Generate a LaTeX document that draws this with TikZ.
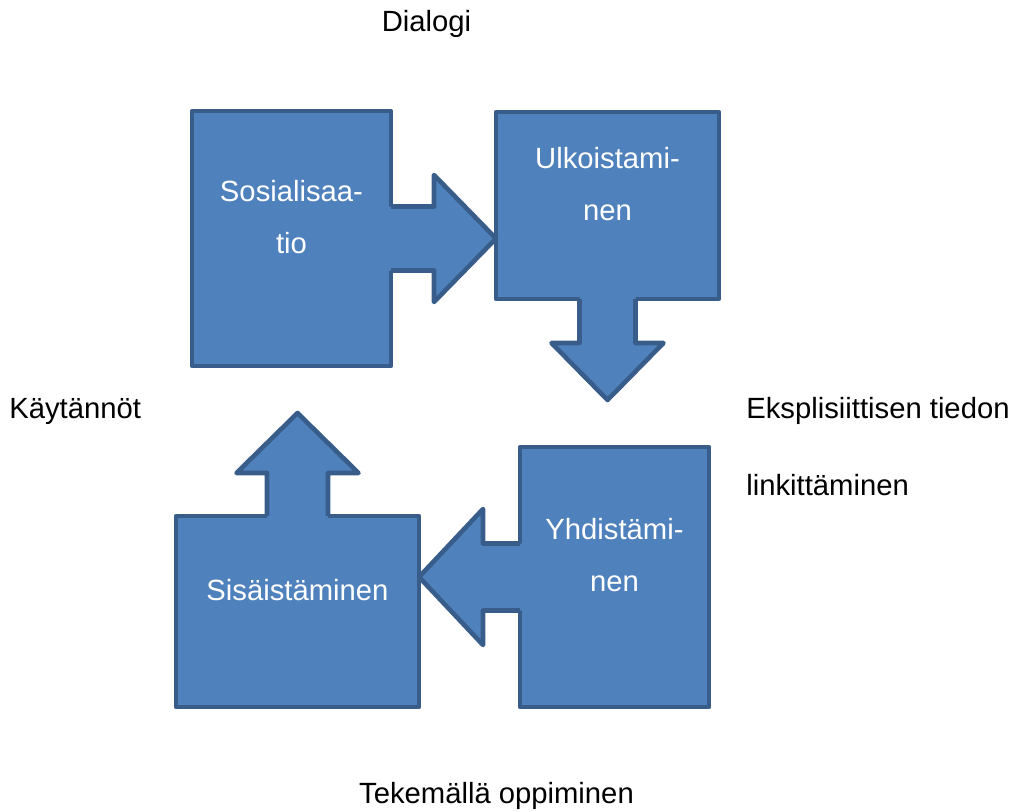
\documentclass[tikz,border=0pt]{standalone}
\usepackage{fontspec}
\setmainfont{Liberation Sans}
\usetikzlibrary{calc}
\definecolor{boxfill}{RGB}{79,129,189}
\definecolor{boxline}{RGB}{56,93,138}
\tikzset{
  stage/.style={draw=boxline,fill=boxfill,line width=1.15mm,line join=round,inner sep=0pt,outer sep=0pt},
  stagetext/.style={text=white,font=\fontsize{20.8}{37}\selectfont,align=center,yshift=5.4mm},
  side/.style={font=\fontsize{20.8}{24}\selectfont,inner sep=0pt},
  arrowline/.style={draw=boxline,line width=1.15mm,line join=round}
}
\begin{document}
\begin{tikzpicture}[x=0.25mm,y=-0.25mm]
  \useasboundingbox (0,0) rectangle (1012,812);
  % the four boxes
  \node[stage,minimum width=49.75mm,minimum height=63.75mm] (soc) at (291.5,238.5) {};
  \node[stage,minimum width=55.75mm,minimum height=46.75mm] (ulk) at (607.5,205.5) {};
  \node[stage,minimum width=47.25mm,minimum height=65mm] (yhd) at (614.5,577) {};
  \node[stage,minimum width=60.75mm,minimum height=47.75mm] (sis) at (297.5,611.5) {};
  % block arrows, shaft starts inside its box
  \begin{scope}[shift={(soc.east)}]
    \fill[boxfill] (-4,-32) -- (43,-32) -- (43,-63.5) -- (ulk.west |- soc.east) -- (43,63.5) -- (43,32) -- (-4,32) -- cycle;
    \draw[arrowline] (0,-32) -- (43,-32) -- (43,-63.5) -- (ulk.west |- soc.east) -- (43,63.5) -- (43,32) -- (0,32);
  \end{scope}
  \begin{scope}[shift={(ulk.south)}]
    \fill[boxfill] (-28,-4) -- (-28,44) -- (-56,44) -- (0,101) -- (56,44) -- (28,44) -- (28,-4) -- cycle;
    \draw[arrowline] (-28,0) -- (-28,44) -- (-56,44) -- (0,101) -- (56,44) -- (28,44) -- (28,0);
  \end{scope}
  \begin{scope}[shift={(yhd.west)}]
    \fill[boxfill] (4,-33.5) -- (-37,-33.5) -- (-37,-68) -- (sis.east |- yhd.west) -- (-37,68) -- (-37,33.5) -- (4,33.5) -- cycle;
    \draw[arrowline] (0,-33.5) -- (-37,-33.5) -- (-37,-68) -- (sis.east |- yhd.west) -- (-37,68) -- (-37,33.5) -- (0,33.5);
  \end{scope}
  \begin{scope}[shift={(sis.north)}]
    \fill[boxfill] (-30.5,4) -- (-30.5,-43) -- (-61,-43) -- (0,-103) -- (61,-43) -- (30.5,-43) -- (30.5,4) -- cycle;
    \draw[arrowline] (-30.5,0) -- (-30.5,-43) -- (-61,-43) -- (0,-103) -- (61,-43) -- (30.5,-43) -- (30.5,0);
  \end{scope}
  % box texts
  \node[stagetext] (soctext) at (soc) {Sosialisaa-\\tio};
  \node[stagetext] (ulktext) at (ulk) {Ulkoistami-\\nen};
  \node[stagetext] (yhdtext) at (yhd) {Yhdistämi-\\nen};
  \node[stagetext] (sistext) at (sis) {Sisäistäminen};
  % labels round the cycle
  \node[side,anchor=base] (dialogi) at (426.5,32) {Dialogi};
  \node[side,anchor=base west] (kaytannot) at (9,418) {Käytännöt};
  \node[side,anchor=base west] (eksp) at (746,418) {Eksplisiittisen tiedon};
  \node[side,anchor=base west] (linkit) at (746,495) {linkittäminen};
  \node[side,anchor=base] (tekemalla) at (496.5,803) {Tekemällä oppiminen};
\end{tikzpicture}
\end{document}
